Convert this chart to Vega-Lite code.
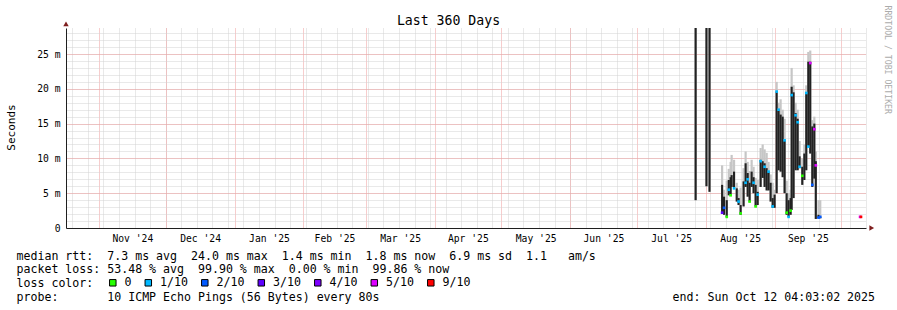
{
  "$schema": "https://vega.github.io/schema/vega-lite/v6.json",
  "width": 800,
  "height": 200,
  "autosize": "none",
  "padding": {"left": 66, "top": 28, "right": 31, "bottom": 82},
  "background": "white",
  "view": {"stroke": null},
  "config": {"font": "DejaVu Sans Mono"},
  "datasets": {
    "samples": [
      {"t":"2025-07-27T12:00","lo":4.0,"hi":40,"smoke":40},
      {"t":"2025-08-01T09:00","lo":6.0,"hi":40,"smoke":40},
      {"t":"2025-08-02T18:00","lo":5.2,"hi":40,"smoke":40},
      {"t":"2025-08-08T10:00","lo":2.2,"hi":6.2,"smoke":9.0},
      {"t":"2025-08-09T07:00","lo":1.9,"hi":4.5,"smoke":5.5},
      {"t":"2025-08-10T12:00","lo":1.6,"hi":4.0,"smoke":6.8},
      {"t":"2025-08-11T10:00","lo":4.7,"hi":6.9,"smoke":8.5},
      {"t":"2025-08-12T06:00","lo":4.7,"hi":7.3,"smoke":9.5},
      {"t":"2025-08-12T17:00","lo":5.9,"hi":7.6,"smoke":10.5},
      {"t":"2025-08-13T19:00","lo":5.7,"hi":8.1,"smoke":9.8},
      {"t":"2025-08-15T00:00","lo":3.8,"hi":5.7,"smoke":6.5},
      {"t":"2025-08-15T20:00","lo":3.3,"hi":4.3,"smoke":5.5},
      {"t":"2025-08-16T18:00","lo":1.9,"hi":3.3,"smoke":5.8},
      {"t":"2025-08-18T02:00","lo":3.1,"hi":6.7,"smoke":8.6},
      {"t":"2025-08-19T00:00","lo":5.9,"hi":9.3,"smoke":11.0},
      {"t":"2025-08-19T22:00","lo":4.5,"hi":7.9,"smoke":9.5},
      {"t":"2025-08-20T19:00","lo":3.8,"hi":6.5,"smoke":8.2},
      {"t":"2025-08-21T17:00","lo":5.9,"hi":8.1,"smoke":9.8},
      {"t":"2025-08-22T14:00","lo":5.0,"hi":7.3,"smoke":8.8},
      {"t":"2025-08-23T12:00","lo":3.1,"hi":6.2,"smoke":7.2},
      {"t":"2025-08-24T10:00","lo":3.3,"hi":5.2,"smoke":6.9},
      {"t":"2025-08-25T18:00","lo":5.9,"hi":9.8,"smoke":11.5},
      {"t":"2025-08-26T16:00","lo":7.2,"hi":9.6,"smoke":12.0},
      {"t":"2025-08-27T13:00","lo":5.9,"hi":9.3,"smoke":11.3},
      {"t":"2025-08-28T11:00","lo":5.4,"hi":8.6,"smoke":10.8},
      {"t":"2025-08-29T08:00","lo":5.4,"hi":8.1,"smoke":9.5},
      {"t":"2025-08-30T06:00","lo":3.8,"hi":6.5,"smoke":7.7},
      {"t":"2025-08-31T04:00","lo":2.9,"hi":4.3,"smoke":6.5},
      {"t":"2025-09-01T01:00","lo":2.9,"hi":4.8,"smoke":5.5},
      {"t":"2025-09-01T23:00","lo":5.0,"hi":19.6,"smoke":21.0},
      {"t":"2025-09-02T20:00","lo":8.3,"hi":17.0,"smoke":18.0},
      {"t":"2025-09-03T18:00","lo":8.1,"hi":16.3,"smoke":18.5},
      {"t":"2025-09-04T16:00","lo":7.3,"hi":16.0,"smoke":17.0},
      {"t":"2025-09-05T13:00","lo":5.0,"hi":12.6,"smoke":15.7},
      {"t":"2025-09-06T11:00","lo":1.9,"hi":5.0,"smoke":6.8},
      {"t":"2025-09-07T08:00","lo":1.6,"hi":4.0,"smoke":5.0},
      {"t":"2025-09-08T06:00","lo":1.9,"hi":4.3,"smoke":5.5},
      {"t":"2025-09-08T17:00","lo":2.6,"hi":20.3,"smoke":23.0},
      {"t":"2025-09-09T14:00","lo":4.3,"hi":19.5,"smoke":20.5},
      {"t":"2025-09-10T12:00","lo":8.3,"hi":16.5,"smoke":18.0},
      {"t":"2025-09-11T10:00","lo":8.3,"hi":15.7,"smoke":17.0},
      {"t":"2025-09-12T07:00","lo":8.6,"hi":10.3,"smoke":12.5},
      {"t":"2025-09-13T12:00","lo":6.2,"hi":8.8,"smoke":10.0},
      {"t":"2025-09-14T10:00","lo":6.9,"hi":10.7,"smoke":12.0},
      {"t":"2025-09-15T07:00","lo":8.3,"hi":19.4,"smoke":20.5},
      {"t":"2025-09-16T05:00","lo":11.7,"hi":23.9,"smoke":25.3},
      {"t":"2025-09-17T02:00","lo":10.7,"hi":23.9,"smoke":25.5},
      {"t":"2025-09-18T00:00","lo":5.9,"hi":14.6,"smoke":15.5},
      {"t":"2025-09-18T22:00","lo":7.1,"hi":15.0,"smoke":16.0},
      {"t":"2025-09-19T14:00","lo":1.3,"hi":9.6,"smoke":11.0},
      {"t":"2025-09-20T19:00","lo":1.4,"hi":1.9,"smoke":4.0},
      {"t":"2025-09-21T14:00","lo":1.4,"hi":1.6,"smoke":4.0}
    ],
    "medians": [
      {"t":"2025-08-08T10:00","median":2.2,"loss":"3/10"},
      {"t":"2025-08-09T07:00","median":2.9,"loss":"2/10"},
      {"t":"2025-08-10T12:00","median":1.6,"loss":"0"},
      {"t":"2025-08-11T10:00","median":5.5,"loss":"1/10"},
      {"t":"2025-08-12T06:00","median":4.7,"loss":"0"},
      {"t":"2025-08-13T19:00","median":5.7,"loss":"1/10"},
      {"t":"2025-08-15T20:00","median":3.8,"loss":"1/10"},
      {"t":"2025-08-16T18:00","median":2.1,"loss":"0"},
      {"t":"2025-08-19T00:00","median":6.5,"loss":"1/10"},
      {"t":"2025-08-19T22:00","median":7.0,"loss":"1/10"},
      {"t":"2025-08-20T19:00","median":3.8,"loss":"0"},
      {"t":"2025-08-22T14:00","median":6.5,"loss":"1/10"},
      {"t":"2025-08-23T12:00","median":3.1,"loss":"0"},
      {"t":"2025-08-24T10:00","median":4.8,"loss":"1/10"},
      {"t":"2025-08-25T18:00","median":9.6,"loss":"1/10"},
      {"t":"2025-08-27T13:00","median":8.8,"loss":"1/10"},
      {"t":"2025-08-29T08:00","median":8.1,"loss":"1/10"},
      {"t":"2025-08-31T04:00","median":3.1,"loss":"1/10"},
      {"t":"2025-09-01T23:00","median":19.6,"loss":"1/10"},
      {"t":"2025-09-02T20:00","median":17.0,"loss":"1/10"},
      {"t":"2025-09-05T13:00","median":12.6,"loss":"1/10"},
      {"t":"2025-09-06T11:00","median":2.2,"loss":"0"},
      {"t":"2025-09-07T08:00","median":1.6,"loss":"1/10"},
      {"t":"2025-09-08T06:00","median":2.5,"loss":"0"},
      {"t":"2025-09-08T17:00","median":19.1,"loss":"1/10"},
      {"t":"2025-09-10T12:00","median":16.2,"loss":"1/10"},
      {"t":"2025-09-11T10:00","median":15.2,"loss":"1/10"},
      {"t":"2025-09-12T07:00","median":8.8,"loss":"1/10"},
      {"t":"2025-09-13T12:00","median":7.5,"loss":"0"},
      {"t":"2025-09-15T07:00","median":19.4,"loss":"1/10"},
      {"t":"2025-09-16T05:00","median":11.7,"loss":"1/10"},
      {"t":"2025-09-17T02:00","median":23.7,"loss":"5/10"},
      {"t":"2025-09-18T00:00","median":6.2,"loss":"2/10"},
      {"t":"2025-09-18T22:00","median":14.2,"loss":"5/10"},
      {"t":"2025-09-19T14:00","median":9.0,"loss":"5/10"},
      {"t":"2025-09-20T19:00","median":1.5,"loss":"2/10"},
      {"t":"2025-09-21T14:00","median":1.6,"loss":"2/10"},
      {"t":"2025-10-09T12:00","median":1.6,"loss":"5/10"},
      {"t":"2025-10-09T22:00","median":1.6,"loss":"9/10"}
    ],
    "arrows": [
      {"t":"2025-10-14T18:00","v":0,"axis":"x"},
      {"t":"2024-10-17T04:03:02","v":29.35,"axis":"y"}
    ]
  },
  "layer": [
    {
      "data": {"name": "samples"},
      "mark": {"type": "rule", "color": "#c6c6c6", "strokeWidth": 2.2, "clip": true},
      "encoding": {
        "x": {"field": "t", "type": "temporal",
          "scale": {"domain": [{"year":2024,"month":10,"date":17,"hours":4,"minutes":3,"seconds":2},{"year":2025,"month":10,"date":12,"hours":4,"minutes":3,"seconds":2}], "nice": false},
          "axis": {"orient": "bottom", "grid": true, "gridColor": "#d2d2d2", "gridDash": [1,1], "gridWidth": 1,
            "tickCount": {"interval": "week", "step": 1}, "labels": false, "ticks": false, "tickSize": 0, "domain": false, "title": null}},
        "y": {"field": "lo", "type": "quantitative",
          "scale": {"domain": [0, 28.74], "nice": false, "zero": true},
          "axis": {"orient": "left", "grid": true, "gridColor": "#d2d2d2", "gridDash": [1,1], "gridWidth": 1,
            "values": [1,2,3,4,5,6,7,8,9,10,11,12,13,14,15,16,17,18,19,20,21,22,23,24,25,26,27,28],
            "labels": false, "ticks": false, "tickSize": 0, "domain": false, "title": null}},
        "y2": {"field": "smoke"}
      }
    },
    {
      "data": {"name": "samples"},
      "mark": {"type": "rule", "color": "#222222", "strokeWidth": 2.1, "clip": true},
      "encoding": {
        "x": {"field": "t", "type": "temporal",
          "scale": {"domain": [{"year":2024,"month":10,"date":17,"hours":4,"minutes":3,"seconds":2},{"year":2025,"month":10,"date":12,"hours":4,"minutes":3,"seconds":2}], "nice": false},
          "axis": {"orient": "bottom", "grid": true, "gridColor": "#ee9a9a", "gridDash": [1,1], "gridWidth": 1,
            "tickCount": {"interval": "month", "step": 1}, "labels": false, "ticks": false, "tickSize": 0, "domain": false, "title": null}},
        "y": {"field": "lo", "type": "quantitative",
          "scale": {"domain": [0, 28.74], "nice": false, "zero": true},
          "axis": {"orient": "left", "grid": true, "gridColor": "#ee9a9a", "gridDash": [1,1], "gridWidth": 1,
            "values": [5,10,15,20,25], "labels": false, "ticks": false, "tickSize": 0, "domain": false, "title": null}},
        "y2": {"field": "hi"}
      }
    },
    {
      "data": {"name": "medians"},
      "mark": {"type": "point", "shape": "square", "filled": true, "size": 7, "strokeWidth": 0, "opacity": 1},
      "encoding": {
        "x": {"field": "t", "type": "temporal",
          "scale": {"domain": [{"year":2024,"month":10,"date":17,"hours":4,"minutes":3,"seconds":2},{"year":2025,"month":10,"date":12,"hours":4,"minutes":3,"seconds":2}], "nice": false},
          "axis": {"orient": "bottom", "grid": false, "ticks": false, "tickSize": 0, "domain": true, "domainColor": "#1f1f1f", "domainWidth": 1,
            "values": [
              {"year":2024,"month":11,"date":16},
              {"year":2024,"month":12,"date":16,"hours":12},
              {"year":2025,"month":1,"date":16,"hours":12},
              {"year":2025,"month":2,"date":15},
              {"year":2025,"month":3,"date":16,"hours":12},
              {"year":2025,"month":4,"date":16},
              {"year":2025,"month":5,"date":16,"hours":12},
              {"year":2025,"month":6,"date":16},
              {"year":2025,"month":7,"date":16,"hours":12},
              {"year":2025,"month":8,"date":16,"hours":12},
              {"year":2025,"month":9,"date":16}
            ],
            "format": "%b '%y", "labelFont": "DejaVu Sans Mono", "labelFontSize": 9.7, "labelColor": "#000000",
            "labelAlign": "center", "labelBaseline": "alphabetic", "labelPadding": 13, "labelOverlap": false, "labelFlush": false,
            "title": [
              "median rtt:\u00a0\u00a07.3 ms avg\u00a0\u00a024.0 ms max\u00a0\u00a01.4 ms min\u00a0\u00a01.8 ms now\u00a0\u00a06.9 ms sd\u00a0\u00a01.1\u00a0\u00a0\u00a0am/s",
              "packet loss: 53.48 % avg\u00a0\u00a099.90 % max\u00a0\u00a00.00 % min\u00a0\u00a099.86 % now",
              "loss color:",
              "probe:\u00a0\u00a0\u00a0\u00a0\u00a0\u00a0\u00a010 ICMP Echo Pings (56 Bytes) every 80s\u00a0\u00a0\u00a0\u00a0\u00a0\u00a0\u00a0\u00a0\u00a0\u00a0\u00a0\u00a0\u00a0\u00a0\u00a0\u00a0\u00a0\u00a0\u00a0\u00a0\u00a0\u00a0\u00a0\u00a0\u00a0\u00a0\u00a0\u00a0\u00a0\u00a0\u00a0\u00a0\u00a0\u00a0\u00a0\u00a0\u00a0\u00a0\u00a0\u00a0\u00a0\u00a0end: Sun Oct 12 04:03:02 2025"
            ],
            "titleX": -50, "titleY": 31, "titleAlign": "left", "titleAnchor": "start", "titleBaseline": "alphabetic", "titleAngle": 0,
            "titleFont": "DejaVu Sans Mono", "titleFontSize": 11.6, "titleFontWeight": "normal", "titleColor": "#000000",
            "titleLineHeight": 13.9, "titleLimit": 3000}},
        "y": {"field": "median", "type": "quantitative",
          "scale": {"domain": [0, 28.74], "nice": false, "zero": true},
          "axis": {"orient": "left", "grid": false, "ticks": false, "tickSize": 0, "domain": true, "domainColor": "#1f1f1f", "domainWidth": 1,
            "values": [0,5,10,15,20,25],
            "labelExpr": "datum.value == 0 ? '0\u00a0\u00a0' : datum.value + ' m'",
            "labelFont": "DejaVu Sans Mono", "labelFontSize": 9.7, "labelColor": "#000000", "labelPadding": 6, "labelAlign": "right", "labelBaseline": "middle",
            "title": "Seconds", "titleX": -55, "titleY": 99, "titleAngle": 270, "titleAlign": "center", "titleBaseline": "middle",
            "titleFont": "DejaVu Sans Mono", "titleFontSize": 11, "titleFontWeight": "normal", "titleColor": "#000000"}},
        "color": {"field": "loss", "type": "nominal",
          "scale": {"domain": ["0","1/10","2/10","3/10","4/10","5/10","9/10"],
                    "range": ["#26ff00","#00b8ff","#0059ff","#5e00ff","#7e00ff","#dd00ff","#ff0000"]},
          "legend": {"orient": "none", "legendX": 41, "legendY": 249, "direction": "horizontal", "title": null,
            "symbolType": "square", "symbolSize": 42, "symbolStrokeColor": "#000000", "symbolStrokeWidth": 1, "symbolOpacity": 1,
            "labelFont": "DejaVu Sans Mono", "labelFontSize": 11.6, "labelColor": "#000000", "labelOffset": 6,
            "columnPadding": 10.5, "gridAlign": "none", "padding": 0}}
      }
    },
    {
      "data": {"name": "arrows"},
      "mark": {"type": "point", "filled": true, "size": 30, "color": "#7f1f1f", "strokeWidth": 0, "opacity": 1},
      "encoding": {
        "x": {"field": "t", "type": "temporal",
          "scale": {"domain": [{"year":2024,"month":10,"date":17,"hours":4,"minutes":3,"seconds":2},{"year":2025,"month":10,"date":12,"hours":4,"minutes":3,"seconds":2}], "nice": false},
          "axis": {"orient": "top", "labels": false, "ticks": false, "tickSize": 0, "domain": false, "grid": false,
            "title": "Last 360 Days", "titleX": 382, "titleY": -4, "titleAlign": "center", "titleBaseline": "alphabetic", "titleAngle": 0,
            "titleFont": "DejaVu Sans Mono", "titleFontSize": 13.2, "titleFontWeight": "normal", "titleColor": "#000000"}},
        "y": {"field": "v", "type": "quantitative",
          "scale": {"domain": [0, 28.74], "nice": false, "zero": true},
          "axis": {"orient": "right", "labels": false, "ticks": false, "tickSize": 0, "domain": false, "grid": false,
            "title": "RRDTOOL / TOBI OETIKER", "titleX": 20, "titleY": -23, "titleAngle": 90, "titleAlign": "left", "titleBaseline": "middle",
            "titleFont": "DejaVu Sans Mono", "titleFontSize": 8.2, "titleFontWeight": "normal", "titleColor": "#ababab"}},
        "shape": {"field": "axis", "type": "nominal",
          "scale": {"domain": ["x","y"], "range": ["triangle-right","triangle-up"]}, "legend": null}
      }
    }
  ],
  "resolve": {"axis": {"x": "independent", "y": "independent"}}
}
